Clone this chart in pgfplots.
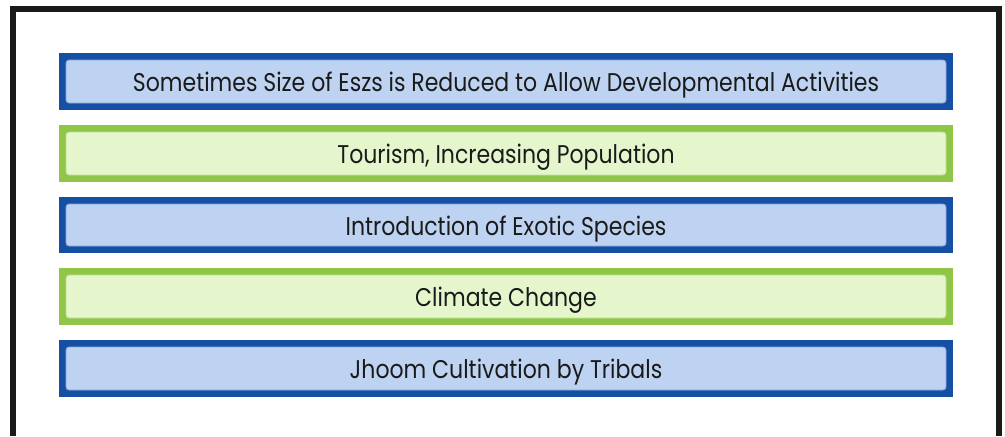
\documentclass[border=0pt]{standalone}
\usepackage{pgfplots}
\pgfplotsset{compat=1.18}
\usepackage{fontspec}
\setmainfont[FakeStretch=0.86]{Poppins}
\definecolor{bdark}{HTML}{1650A4}
\definecolor{blight}{HTML}{BDD3F1}
\definecolor{bline}{HTML}{86A5D9}
\definecolor{gdark}{HTML}{8FC647}
\definecolor{glight}{HTML}{E6F6CC}
\definecolor{gline}{HTML}{B8DF8A}
\definecolor{txt}{HTML}{1A1A1A}
\begin{document}
\begin{tikzpicture}
\begin{axis}[
  scale only axis, width=502.5pt, height=218pt,
  xmin=0, xmax=1005, ymin=0, ymax=436, y dir=reverse,
  hide axis, clip=false,
]
\coordinate (ll) at (axis cs:0,436);
\coordinate (ur) at (axis cs:1005,0);
% outer frame
\addplot[draw=txt, line width=3pt, mark=none] coordinates {(13,436) (13,9) (999,9) (999,436)};
% box 1
\addplot[fill=bdark, draw=none, mark=none] coordinates {(59,53) (953,53) (953,110) (59,110)} -- cycle;
\addplot[fill=blight, draw=bline, line width=0.4pt, rounded corners=1.5pt, mark=none] coordinates {(66,60) (946,60) (946,103) (66,103)} -- cycle;
% box 2
\addplot[fill=gdark, draw=none, mark=none] coordinates {(59,125) (953,125) (953,182) (59,182)} -- cycle;
\addplot[fill=glight, draw=gline, line width=0.4pt, rounded corners=1.5pt, mark=none] coordinates {(66,132) (946,132) (946,175) (66,175)} -- cycle;
% box 3
\addplot[fill=bdark, draw=none, mark=none] coordinates {(59,197) (953,197) (953,253) (59,253)} -- cycle;
\addplot[fill=blight, draw=bline, line width=0.4pt, rounded corners=1.5pt, mark=none] coordinates {(66,204) (946,204) (946,246) (66,246)} -- cycle;
% box 4
\addplot[fill=gdark, draw=none, mark=none] coordinates {(59,268) (953,268) (953,325) (59,325)} -- cycle;
\addplot[fill=glight, draw=gline, line width=0.4pt, rounded corners=1.5pt, mark=none] coordinates {(66,275) (946,275) (946,318) (66,318)} -- cycle;
% box 5
\addplot[fill=bdark, draw=none, mark=none] coordinates {(59,340) (953,340) (953,397) (59,397)} -- cycle;
\addplot[fill=blight, draw=bline, line width=0.4pt, rounded corners=1.5pt, mark=none] coordinates {(66,347) (946,347) (946,390) (66,390)} -- cycle;
% texts
\tikzset{lbl/.style={text=txt, font=\fontsize{12.8pt}{14pt}\selectfont, anchor=base, inner sep=0pt}}
\node[lbl] at (axis cs:506,91.5) {Sometimes Size of Eszs is Reduced to Allow Developmental Activities};
\node[lbl] at (axis cs:506,163.5) {Tourism, Increasing Population};
\node[lbl] at (axis cs:506,235.5) {Introduction of Exotic Species};
\node[lbl] at (axis cs:506,306.5) {Climate Change};
\node[lbl] at (axis cs:506,378.5) {Jhoom Cultivation by Tribals};
\end{axis}
\pgfresetboundingbox
\path[use as bounding box] (ll) rectangle (ur);
\end{tikzpicture}
\end{document}
